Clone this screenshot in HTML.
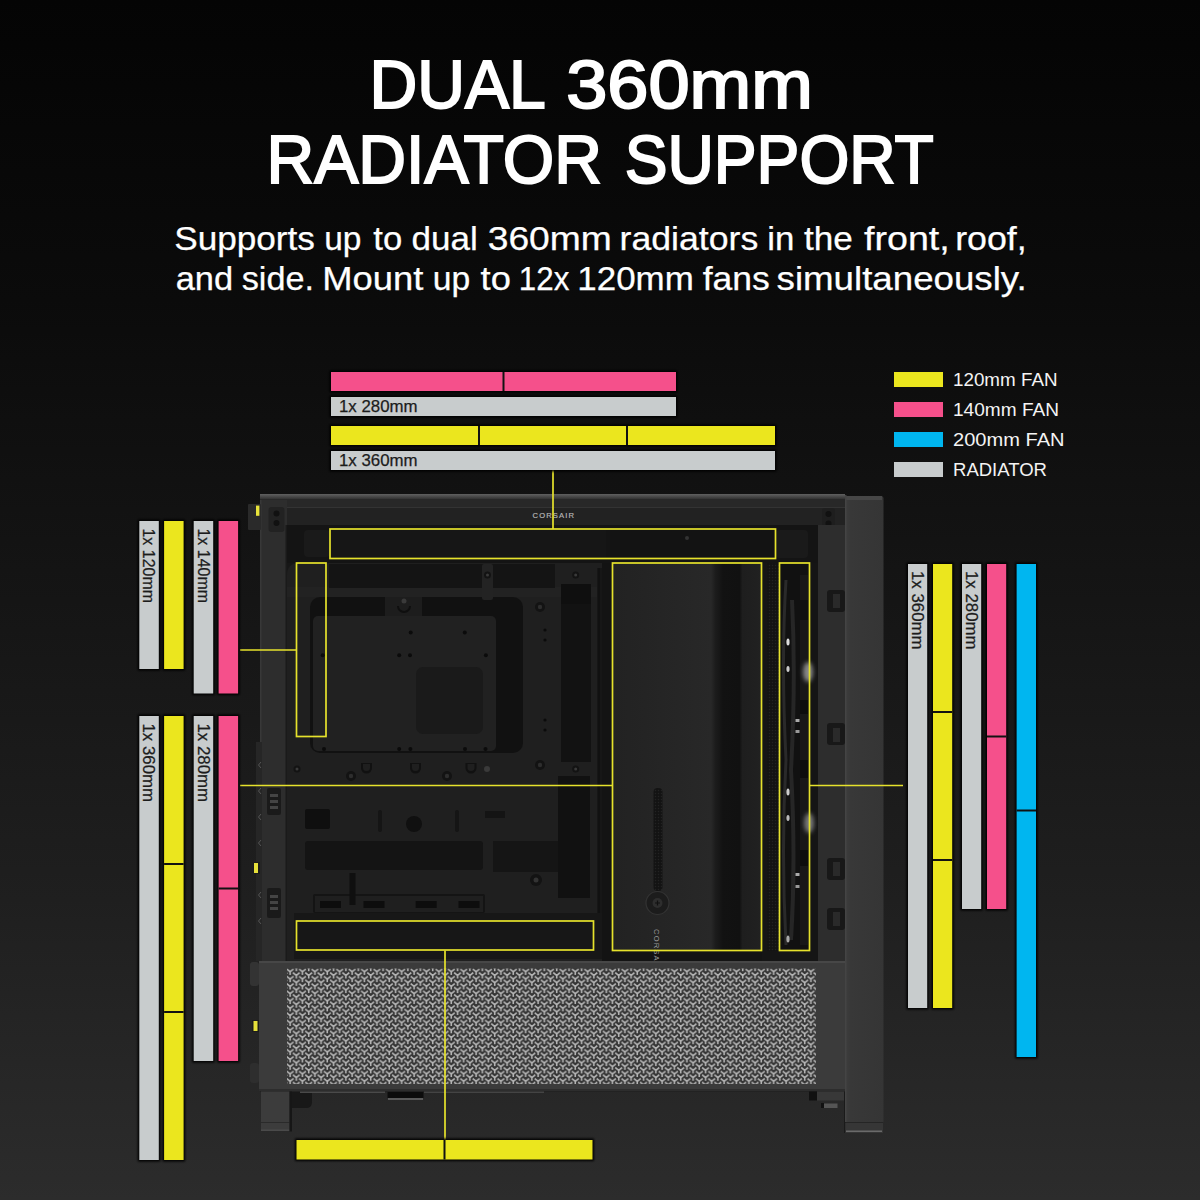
<!DOCTYPE html>
<html><head><meta charset="utf-8">
<style>
html,body{margin:0;padding:0;background:#111;}
body{width:1200px;height:1200px;overflow:hidden;}
svg{display:block;}
text{font-family:"Liberation Sans",sans-serif;}
</style></head>
<body>
<svg width="1200" height="1200" viewBox="0 0 1200 1200">
<defs>
<linearGradient id="bg" x1="0" y1="0" x2="0" y2="1">
<stop offset="0" stop-color="#040404"/>
<stop offset="0.25" stop-color="#0b0b0b"/>
<stop offset="0.5" stop-color="#151515"/>
<stop offset="0.75" stop-color="#1f1f1f"/>
<stop offset="1" stop-color="#2c2c2c"/>
</linearGradient>
<linearGradient id="front" x1="0" y1="0" x2="1" y2="0">
<stop offset="0" stop-color="#3d3d3d"/>
<stop offset="0.15" stop-color="#383838"/>
<stop offset="1" stop-color="#353535"/>
</linearGradient>
<linearGradient id="topedge" x1="0" y1="0" x2="0" y2="1">
<stop offset="0" stop-color="#606060"/>
<stop offset="1" stop-color="#2a2a2a"/>
</linearGradient>
<linearGradient id="psu" x1="0" y1="0" x2="1" y2="0">
<stop offset="0" stop-color="#222"/>
<stop offset="0.66" stop-color="#282828"/>
<stop offset="0.69" stop-color="#1c1c1c"/>
<stop offset="0.74" stop-color="#121212"/>
<stop offset="0.85" stop-color="#111"/>
<stop offset="0.87" stop-color="#1e1e1e"/>
<stop offset="1" stop-color="#212121"/>
</linearGradient>
<pattern id="mesh" x="287" y="968.5" width="12.4" height="7.3" patternUnits="userSpaceOnUse">
<rect width="12.4" height="7.3" fill="#353535"/>
<path d="M-12.70 -6.80L-9.30 -4.00L-5.90 -6.80M-9.30 -4.00V-0.80M-12.70 0.50L-9.30 3.30L-5.90 0.50M-9.30 3.30V6.50M-12.70 7.80L-9.30 10.60L-5.90 7.80M-9.30 10.60V13.80M-0.30 -6.80L3.10 -4.00L6.50 -6.80M3.10 -4.00V-0.80M-0.30 0.50L3.10 3.30L6.50 0.50M3.10 3.30V6.50M-0.30 7.80L3.10 10.60L6.50 7.80M3.10 10.60V13.80M12.10 -6.80L15.50 -4.00L18.90 -6.80M15.50 -4.00V-0.80M12.10 0.50L15.50 3.30L18.90 0.50M15.50 3.30V6.50M12.10 7.80L15.50 10.60L18.90 7.80M15.50 10.60V13.80M-6.50 -3.15L-3.10 -0.35L0.30 -3.15M-3.10 -0.35V2.85M-6.50 4.15L-3.10 6.95L0.30 4.15M-3.10 6.95V10.15M-6.50 11.45L-3.10 14.25L0.30 11.45M-3.10 14.25V17.45M5.90 -3.15L9.30 -0.35L12.70 -3.15M9.30 -0.35V2.85M5.90 4.15L9.30 6.95L12.70 4.15M9.30 6.95V10.15M5.90 11.45L9.30 14.25L12.70 11.45M9.30 14.25V17.45M18.30 -3.15L21.70 -0.35L25.10 -3.15M21.70 -0.35V2.85M18.30 4.15L21.70 6.95L25.10 4.15M21.70 6.95V10.15M18.30 11.45L21.70 14.25L25.10 11.45M21.70 14.25V17.45" stroke="#b5b5b5" stroke-width="1.6" fill="none"/>
</pattern>
<pattern id="dmesh" x="0" y="0" width="3" height="3" patternUnits="userSpaceOnUse">
<rect width="3" height="3" fill="#131313"/><circle cx="1.5" cy="1.5" r="0.7" fill="#222"/>
</pattern>
<filter id="sh" x="-20%" y="-20%" width="140%" height="140%">
<feGaussianBlur stdDeviation="1"/>
</filter>
<filter id="blur2" x="-50%" y="-50%" width="200%" height="200%">
<feGaussianBlur stdDeviation="2"/>
</filter>
</defs>
<rect width="1200" height="1200" fill="url(#bg)"/>

<g fill="#fff" stroke="#fff">
<text x="369.47" y="108" font-size="69" stroke-width="2" textLength="176.38" lengthAdjust="spacingAndGlyphs">DUAL</text>
<text x="566.15" y="108" font-size="69" stroke-width="2" textLength="246.67" lengthAdjust="spacingAndGlyphs">360mm</text>
<text x="266.53" y="183" font-size="69" stroke-width="2" textLength="335.33" lengthAdjust="spacingAndGlyphs">RADIATOR</text>
<text x="624.64" y="183" font-size="69" stroke-width="2" textLength="309.14" lengthAdjust="spacingAndGlyphs">SUPPORT</text>
<text x="174.20" y="250" font-size="33" stroke-width="0.25" textLength="140.70" lengthAdjust="spacingAndGlyphs">Supports</text>
<text x="324.25" y="250" font-size="33" stroke-width="0.25" textLength="37.26" lengthAdjust="spacingAndGlyphs">up</text>
<text x="373.39" y="250" font-size="33" stroke-width="0.25" textLength="28.90" lengthAdjust="spacingAndGlyphs">to</text>
<text x="411.59" y="250" font-size="33" stroke-width="0.25" textLength="66.21" lengthAdjust="spacingAndGlyphs">dual</text>
<text x="487.71" y="250" font-size="33" stroke-width="0.25" textLength="124.09" lengthAdjust="spacingAndGlyphs">360mm</text>
<text x="619.59" y="250" font-size="33" stroke-width="0.25" textLength="138.70" lengthAdjust="spacingAndGlyphs">radiators</text>
<text x="767.25" y="250" font-size="33" stroke-width="0.25" textLength="27.16" lengthAdjust="spacingAndGlyphs">in</text>
<text x="804.00" y="250" font-size="33" stroke-width="0.25" textLength="48.90" lengthAdjust="spacingAndGlyphs">the</text>
<text x="864.00" y="250" font-size="33" stroke-width="0.25" textLength="85.70" lengthAdjust="spacingAndGlyphs">front,</text>
<text x="955.20" y="250" font-size="33" stroke-width="0.25" textLength="71.50" lengthAdjust="spacingAndGlyphs">roof,</text>
<text x="175.71" y="290" font-size="33" stroke-width="0.25" textLength="57.48" lengthAdjust="spacingAndGlyphs">and</text>
<text x="241.71" y="290" font-size="33" stroke-width="0.25" textLength="72.38" lengthAdjust="spacingAndGlyphs">side.</text>
<text x="322.25" y="290" font-size="33" stroke-width="0.25" textLength="101.14" lengthAdjust="spacingAndGlyphs">Mount</text>
<text x="432.81" y="290" font-size="33" stroke-width="0.25" textLength="37.48" lengthAdjust="spacingAndGlyphs">up</text>
<text x="480.61" y="290" font-size="33" stroke-width="0.25" textLength="30.29" lengthAdjust="spacingAndGlyphs">to</text>
<text x="518.81" y="290" font-size="33" stroke-width="0.25" textLength="50.58" lengthAdjust="spacingAndGlyphs">12x</text>
<text x="577.30" y="290" font-size="33" stroke-width="0.25" textLength="116.45" lengthAdjust="spacingAndGlyphs">120mm</text>
<text x="702.66" y="290" font-size="33" stroke-width="0.25" textLength="67.07" lengthAdjust="spacingAndGlyphs">fans</text>
<text x="776.54" y="290" font-size="33" stroke-width="0.25" textLength="250.16" lengthAdjust="spacingAndGlyphs">simultaneously.</text>

</g>

<g id="case">
<!-- front panel -->
<path d="M845 496 H881 Q883.5 496 883.5 498.5 V1122 H845 Z" fill="url(#front)"/>
<rect x="845" y="496" width="37" height="4" fill="#474747"/>
<rect x="845" y="1122" width="38" height="11" fill="#363636"/>
<rect x="845" y="1122" width="38" height="1" fill="#252525"/>
<rect x="846" y="1130.5" width="36" height="1.5" fill="#6a6a6a"/>
<rect x="844" y="500" width="1.2" height="633" fill="#1a1a1a"/>
<rect x="845" y="495" width="1.5" height="627" fill="#444"/>
<!-- main body -->
<rect x="260" y="494" width="585" height="598" fill="#222"/>
<rect x="260" y="494" width="585" height="6" fill="url(#topedge)"/>
<rect x="260" y="500" width="585" height="25" fill="#222"/>
<rect x="260" y="499" width="585" height="8" fill="#282828"/><rect x="260" y="507" width="585" height="1" fill="#333"/>
<!-- left pillar -->
<rect x="260" y="500" width="27" height="461" fill="#2d2d2d"/>
<rect x="260" y="500" width="1.5" height="461" fill="#383838"/>
<rect x="256" y="742" width="6" height="219" fill="#262626"/>
<path d="M261 762 l-2.5 3 l2.5 3 M261 788 l-2.5 3 l2.5 3 M261 814 l-2.5 3 l2.5 3 M261 840 l-2.5 3 l2.5 3 M261 892 l-2.5 3 l2.5 3 M261 918 l-2.5 3 l2.5 3" stroke="#555" stroke-width="1" fill="none"/>
<rect x="285.5" y="525" width="1.5" height="436" fill="#1a1a1a"/>
<!-- top-left and top-right brackets w/ screws -->
<rect x="268.5" y="507" width="16" height="25" rx="3" fill="#222"/>
<circle cx="276.5" cy="513.5" r="3" fill="#111"/><circle cx="276.5" cy="523" r="3" fill="#111"/>
<rect x="822" y="508" width="13" height="24" rx="3" fill="#1e1e1e"/>
<circle cx="828.5" cy="514" r="3" fill="#111"/><circle cx="828.5" cy="523.5" r="3" fill="#111"/>
<!-- power button -->
<rect x="248" y="504" width="13" height="26" rx="1" fill="#2a2a2a"/>
<rect x="256" y="505.6" width="3.4" height="10.2" fill="#e8e33a"/>
<!-- right pillar -->
<rect x="818" y="525" width="27" height="436" fill="#2d2d2d"/>
<rect x="827" y="590" width="18" height="22" rx="3" fill="#181818"/>
<rect x="833" y="594" width="7" height="14" fill="#2a2a2a"/>
<rect x="827" y="723" width="18" height="22" rx="3" fill="#181818"/>
<rect x="833" y="728" width="7" height="14" fill="#2a2a2a"/>
<rect x="827" y="858" width="18" height="22" rx="3" fill="#181818"/>
<rect x="833" y="862" width="7" height="14" fill="#2a2a2a"/>
<rect x="827" y="908" width="18" height="22" rx="3" fill="#181818"/>
<rect x="833" y="912" width="7" height="14" fill="#2a2a2a"/>
<!-- interior -->
<rect x="287" y="525" width="531" height="436" fill="#171717"/>
<!-- motherboard tray -->
<path d="M287 575 Q287 563 299 563 H602 V961 H287 Z" fill="#1f1f1f"/>
<rect x="287" y="587" width="315" height="10" fill="#222"/>
<rect x="329" y="564" width="226" height="24" fill="#141414"/>
<rect x="310" y="597" width="213" height="156" rx="10" fill="#111"/>
<rect x="385" y="597" width="37" height="19" fill="#1d1d1d"/>
<circle cx="404" cy="601" r="2.5" fill="#3a3a3a"/><path d="M398 606 a6 6 0 0 0 12 0" stroke="#0f0f0f" stroke-width="2" fill="none"/>
<rect x="313" y="616" width="183" height="135" rx="5" fill="#212121"/>
<rect x="416" y="667" width="67" height="67" rx="7" fill="#1a1a1a"/>
<rect x="561" y="584" width="30" height="178" fill="#121212"/>
<rect x="561" y="584" width="30" height="20" fill="#0f0f0f"/>
<rect x="597" y="568" width="5" height="345" fill="#161616"/><rect x="598.5" y="568" width="1" height="345" fill="#0c0c0c"/>
<rect x="558" y="776" width="32" height="122" fill="#111"/>
<rect x="305" y="841" width="178" height="29" rx="3" fill="#141414"/>
<rect x="493" y="841" width="65" height="31" fill="#151515"/>
<rect x="305" y="809" width="25" height="20" rx="2" fill="#0f0f0f"/>
<circle cx="414" cy="824" r="8" fill="#101010"/>
<rect x="485" y="811" width="20" height="7" fill="#141414"/>
<rect x="378" y="810" width="4" height="22" rx="2" fill="#151515"/>
<rect x="455" y="810" width="4" height="22" rx="2" fill="#151515"/>
<rect x="313" y="894" width="172" height="19" rx="2" fill="#141414"/>
<rect x="315" y="896" width="168" height="16" fill="#1f1f1f"/>
<rect x="320" y="901" width="21" height="7" fill="#0d0d0d"/>
<rect x="363.5" y="901" width="21" height="7" fill="#0d0d0d"/>
<rect x="415.7" y="901" width="21" height="7" fill="#0d0d0d"/>
<rect x="458.5" y="901" width="21" height="7" fill="#0d0d0d"/>
<rect x="349.5" y="873" width="6" height="32" fill="#0f0f0f"/>
<rect x="294" y="913" width="308" height="46" fill="#171717"/>
<!-- screws / holes -->
<g fill="#0b0b0b">
<circle cx="410.7" cy="632.5" r="2"/><circle cx="464.8" cy="632.5" r="2"/>
<circle cx="322.7" cy="655.2" r="2"/><circle cx="399.2" cy="655.2" r="2"/><circle cx="410" cy="655.2" r="2"/><circle cx="485.9" cy="655.2" r="2"/>
<circle cx="324" cy="749" r="2"/><circle cx="399.2" cy="749" r="2"/><circle cx="410.4" cy="749" r="2"/><circle cx="465" cy="749" r="2"/><circle cx="485.5" cy="749" r="2"/>
<circle cx="545" cy="630" r="1.6"/><circle cx="545" cy="640" r="1.6"/>
<circle cx="545" cy="720" r="1.6"/><circle cx="545" cy="730" r="1.6"/>
</g>
<g>
<circle cx="540" cy="607" r="5" fill="#131313"/><circle cx="540" cy="607" r="2.2" fill="#2e2e2e"/>
<circle cx="540" cy="765" r="5" fill="#131313"/><circle cx="540" cy="765" r="2.2" fill="#2e2e2e"/>
<circle cx="351" cy="776" r="5" fill="#131313"/><circle cx="351" cy="776" r="2.2" fill="#2e2e2e"/>
<circle cx="447" cy="776" r="5" fill="#131313"/><circle cx="447" cy="776" r="2.2" fill="#2e2e2e"/>
<rect x="482" y="564" width="11" height="36" rx="2" fill="#232323"/>
<circle cx="487.5" cy="575" r="3.5" fill="#131313"/><circle cx="487.5" cy="575" r="1.5" fill="#3a3a3a"/>
<circle cx="575.7" cy="575" r="3.5" fill="#131313"/><circle cx="575.7" cy="575" r="1.5" fill="#3a3a3a"/>
<circle cx="297" cy="769" r="3.5" fill="#131313"/><circle cx="297" cy="769" r="1.5" fill="#3a3a3a"/>
<circle cx="575.7" cy="769" r="3.5" fill="#131313"/><circle cx="575.7" cy="769" r="1.5" fill="#3a3a3a"/>
<circle cx="487" cy="769" r="3" fill="#3a3a3a"/>
<path d="M361 763 h11 v5 a5.5 5.5 0 0 1 -11 0 z M410 763 h11 v5 a5.5 5.5 0 0 1 -11 0 z M465.5 763 h11 v5 a5.5 5.5 0 0 1 -11 0 z" fill="#111"/>
<path d="M363 764 h7 v3.5 a3.5 3.5 0 0 1 -7 0 z M412 764 h7 v3.5 a3.5 3.5 0 0 1 -7 0 z M467.5 764 h7 v3.5 a3.5 3.5 0 0 1 -7 0 z" fill="#1f1f1f"/>
<circle cx="536" cy="880" r="6" fill="#131313"/><circle cx="536" cy="880" r="2.5" fill="#333"/>
</g>
<!-- PSU shroud / side radiator area -->
<rect x="602" y="525" width="216" height="436" fill="#131313"/>
<rect x="612" y="563" width="150" height="388" fill="url(#psu)"/>
<rect x="762" y="563" width="56" height="398" fill="#151515"/>
<rect x="767" y="563" width="12" height="388" fill="url(#dmesh)"/>
<!-- fan strip -->
<rect x="780" y="563" width="30" height="388" fill="#111"/>
<path d="M786 580 Q781 660 786 760 Q781 850 786 945" stroke="#2a2a2a" stroke-width="3" fill="none"/>
<path d="M792 600 Q796 680 791 770 Q796 860 791 940" stroke="#262626" stroke-width="4" fill="none"/>
<rect x="800" y="575" width="8" height="370" fill="#181818"/>
<rect x="800" y="600" width="8" height="20" fill="#101010"/>
<rect x="800" y="700" width="8" height="14" fill="#0d0d0d"/>
<rect x="800" y="760" width="8" height="18" fill="#0d0d0d"/>
<rect x="800" y="850" width="8" height="16" fill="#0d0d0d"/>
<ellipse cx="808" cy="672" rx="5" ry="10" fill="#888" filter="url(#blur2)"/>
<ellipse cx="809" cy="823" rx="5" ry="10" fill="#777" filter="url(#blur2)"/>
<ellipse cx="788" cy="642" rx="1.6" ry="3.5" fill="#ddd"/>
<ellipse cx="788" cy="669" rx="1.6" ry="3" fill="#ccc"/>
<ellipse cx="788" cy="792" rx="1.6" ry="3.5" fill="#ccc"/>
<ellipse cx="788" cy="818" rx="1.6" ry="3" fill="#bbb"/>
<ellipse cx="788" cy="939" rx="1.6" ry="3.5" fill="#aaa"/>
<rect x="795.5" y="719" width="4" height="3" fill="#aaa"/>
<rect x="795.5" y="730" width="4" height="3" fill="#999"/>
<rect x="795.5" y="873" width="4" height="3" fill="#aaa"/>
<rect x="795.5" y="885" width="4" height="3" fill="#999"/>
<!-- cable strap -->
<rect x="653.5" y="788" width="9" height="103" rx="4" fill="url(#dmesh)"/>
<circle cx="657.5" cy="903" r="11.5" fill="#1c1c1c" stroke="#333" stroke-width="1.2"/>
<circle cx="657.5" cy="903" r="5" fill="#2e2e2e"/>
<path d="M655 903 h5 M657.5 900.5 v5" stroke="#111" stroke-width="1.2"/>
<text transform="translate(654,929) rotate(90)" font-size="7.6" fill="#9a9a9a" textLength="41.5" lengthAdjust="spacing">CORSAIR</text>
<!-- top radiator area -->
<rect x="287" y="525" width="531" height="38" fill="#141414"/>
<rect x="304" y="530" width="26" height="27" rx="4" fill="#1a1a1a"/>
<rect x="331" y="530" width="275" height="28" fill="#161616"/>
<rect x="610" y="530" width="165" height="28" fill="#131313"/>
<rect x="776" y="530" width="32" height="28" rx="4" fill="#1a1a1a"/>
<circle cx="687" cy="538" r="2" fill="#333"/>
<!-- CORSAIR logo top -->
<text x="532.5" y="517.8" font-size="7.6" fill="#b4b4b4" textLength="41.5" lengthAdjust="spacing" stroke="#b4b4b4" stroke-width="0.2">CORSAIR</text>
<!-- I/O on left pillar -->
<rect x="267" y="788" width="14" height="27" rx="2" fill="#1a1a1a"/>
<rect x="270" y="794" width="8" height="3" fill="#444"/><rect x="270" y="800" width="8" height="3" fill="#444"/><rect x="270" y="806" width="8" height="3" fill="#444"/>
<rect x="267" y="888" width="14" height="30" rx="2" fill="#1a1a1a"/>
<rect x="270" y="895" width="8" height="3" fill="#444"/><rect x="270" y="901" width="8" height="3" fill="#444"/><rect x="270" y="907" width="8" height="3" fill="#444"/>
<rect x="253" y="862" width="7" height="12" fill="#1c1c1c"/>
<rect x="254" y="863" width="4" height="10" fill="#e6e03a"/>
<rect x="252" y="1020" width="8" height="12" fill="#1c1c1c"/>
<rect x="253.5" y="1021" width="4" height="10" fill="#e6e03a"/>
<rect x="250" y="962" width="9" height="24" rx="3" fill="#333"/>
<rect x="250" y="1063" width="9" height="20" rx="3" fill="#2e2e2e"/>
<!-- bottom mesh panel -->
<rect x="259" y="961" width="586" height="130" fill="#3b3b3b"/>
<rect x="259" y="961" width="586" height="2" fill="#474747"/>
<rect x="287" y="968.5" width="529" height="115.5" fill="url(#mesh)"/>
<rect x="259" y="1089" width="586" height="2" fill="#2d2d2d"/>
<!-- feet -->
<rect x="261" y="1091.5" width="28.5" height="39.5" fill="#3c3c3c"/>
<rect x="261" y="1122" width="28.5" height="1" fill="#2a2a2a"/>
<rect x="261" y="1129.5" width="28.5" height="1.5" fill="#4a4a4a"/>
<rect x="289.5" y="1091.5" width="2.5" height="40" fill="#161616"/>
<path d="M292 1092 H312 V1102 Q312 1108 306 1108 H292 Z" fill="#181818"/>
<rect x="300" y="1091.5" width="85" height="1.5" fill="#4a4a4a"/>
<rect x="387.5" y="1092" width="36" height="6" fill="#0c0c0c"/>
<rect x="388" y="1098" width="35" height="2" fill="#5a5a5a"/>
<rect x="424" y="1091.5" width="120" height="1.5" fill="#444"/>
<rect x="817" y="1091.5" width="27" height="9" fill="#383838"/>
<rect x="809" y="1091.5" width="8" height="9" fill="#111"/>
<rect x="824" y="1103.5" width="13.5" height="4.5" fill="#555"/>
<rect x="821" y="1103" width="3" height="5" fill="#111"/>
</g>


<g fill="none" stroke="#e6e22c" stroke-width="1.7">
<rect x="330" y="529" width="445.5" height="29.5"/>
<rect x="296.5" y="563" width="29.5" height="173.5"/>
<rect x="612.5" y="563" width="149" height="387.5"/>
<rect x="779.5" y="563" width="30" height="387.5"/>
<rect x="296.5" y="921" width="297" height="29"/>
<path d="M553 470 V529 M240 650 H296.5 M240 785.5 H612.5 M809.5 785.5 H903 M445 950.5 V1140"/>
</g>

<rect x="329.5" y="370.5" width="348.0" height="22" fill="#000" filter="url(#sh)"/><rect x="331" y="372" width="345.0" height="19" fill="#f5508b"/><rect x="502.5" y="372" width="2" height="19" fill="#121212"/><rect x="329.5" y="395.5" width="348.0" height="22" fill="#000" filter="url(#sh)"/><rect x="331" y="397" width="345.0" height="19" fill="#c8cccd"/><rect x="329.5" y="424.5" width="447" height="22" fill="#000" filter="url(#sh)"/><rect x="331" y="426" width="444" height="19" fill="#ebe61e"/><rect x="478" y="426" width="2" height="19" fill="#121212"/><rect x="626" y="426" width="2" height="19" fill="#121212"/><rect x="329.5" y="449.5" width="447" height="22" fill="#000" filter="url(#sh)"/><rect x="331" y="451" width="444" height="19" fill="#c8cccd"/><rect x="137.8" y="519.5" width="22.5" height="151" fill="#000" filter="url(#sh)"/><rect x="139.3" y="521" width="19.5" height="148" fill="#c8cccd"/><rect x="162.6" y="519.5" width="22.5" height="151" fill="#000" filter="url(#sh)"/><rect x="164.1" y="521" width="19.5" height="148" fill="#ebe61e"/><rect x="192.2" y="519.5" width="22.5" height="175.5" fill="#000" filter="url(#sh)"/><rect x="193.7" y="521" width="19.5" height="172.5" fill="#c8cccd"/><rect x="217.1" y="519.5" width="22.5" height="175.5" fill="#000" filter="url(#sh)"/><rect x="218.6" y="521" width="19.5" height="172.5" fill="#f5508b"/><rect x="137.8" y="714.5" width="22.5" height="447" fill="#000" filter="url(#sh)"/><rect x="139.3" y="716" width="19.5" height="444" fill="#c8cccd"/><rect x="162.6" y="714.5" width="22.5" height="447" fill="#000" filter="url(#sh)"/><rect x="164.1" y="716" width="19.5" height="444" fill="#ebe61e"/><rect x="164.1" y="863" width="19.5" height="2" fill="#121212"/><rect x="164.1" y="1011" width="19.5" height="2" fill="#121212"/><rect x="192.2" y="714.5" width="22.5" height="348.0" fill="#000" filter="url(#sh)"/><rect x="193.7" y="716" width="19.5" height="345.0" fill="#c8cccd"/><rect x="217.1" y="714.5" width="22.5" height="348.0" fill="#000" filter="url(#sh)"/><rect x="218.6" y="716" width="19.5" height="345.0" fill="#f5508b"/><rect x="218.6" y="887.5" width="19.5" height="2" fill="#121212"/><rect x="906.5" y="562.5" width="22.2" height="447" fill="#000" filter="url(#sh)"/><rect x="908" y="564" width="19.2" height="444" fill="#c8cccd"/><rect x="931.5" y="562.5" width="22.2" height="447" fill="#000" filter="url(#sh)"/><rect x="933" y="564" width="19.2" height="444" fill="#ebe61e"/><rect x="933" y="711" width="19.2" height="2" fill="#121212"/><rect x="933" y="859" width="19.2" height="2" fill="#121212"/><rect x="960.5" y="562.5" width="22.2" height="348.0" fill="#000" filter="url(#sh)"/><rect x="962" y="564" width="19.2" height="345.0" fill="#c8cccd"/><rect x="985.5" y="562.5" width="22.2" height="348.0" fill="#000" filter="url(#sh)"/><rect x="987" y="564" width="19.2" height="345.0" fill="#f5508b"/><rect x="987" y="735.5" width="19.2" height="2" fill="#121212"/><rect x="1015.1" y="562.5" width="22.4" height="496.0" fill="#000" filter="url(#sh)"/><rect x="1016.6" y="564" width="19.4" height="493.0" fill="#00b6f0"/><rect x="1016.6" y="809.5" width="19.4" height="2" fill="#121212"/><rect x="295.0" y="1138.5" width="299" height="22.5" fill="#000" filter="url(#sh)"/><rect x="296.5" y="1140" width="296" height="19.5" fill="#ebe61e"/><rect x="443.5" y="1140" width="2" height="19.5" fill="#121212"/>
<g fill="#1c1c1c" stroke="#1c1c1c" stroke-width="0.25" font-size="16.5"><text x="339" y="411.6" textLength="78.5" lengthAdjust="spacingAndGlyphs">1x 280mm</text><text x="339" y="465.6" textLength="78.5" lengthAdjust="spacingAndGlyphs">1x 360mm</text><text transform="translate(143.3,528.5) rotate(90)" textLength="74.5" lengthAdjust="spacingAndGlyphs">1x 120mm</text><text transform="translate(197.8,528.5) rotate(90)" textLength="74.5" lengthAdjust="spacingAndGlyphs">1x 140mm</text><text transform="translate(143.3,723.5) rotate(90)" textLength="78.5" lengthAdjust="spacingAndGlyphs">1x 360mm</text><text transform="translate(197.8,723.5) rotate(90)" textLength="78.5" lengthAdjust="spacingAndGlyphs">1x 280mm</text><text transform="translate(911.8,571) rotate(90)" textLength="78.5" lengthAdjust="spacingAndGlyphs">1x 360mm</text><text transform="translate(965.8,571) rotate(90)" textLength="78.5" lengthAdjust="spacingAndGlyphs">1x 280mm</text></g>

<g>
<rect x="894" y="372" width="49" height="15" fill="#ebe61e"/>
<rect x="894" y="402" width="49" height="15" fill="#f5508b"/>
<rect x="894" y="432" width="49" height="15" fill="#00b6f0"/>
<rect x="894" y="462" width="49" height="15" fill="#c8cccd"/>
<g fill="#f4f4f4" font-size="18.6">
<text x="953" y="386" textLength="104.5" lengthAdjust="spacingAndGlyphs">120mm FAN</text>
<text x="953" y="416" textLength="106" lengthAdjust="spacingAndGlyphs">140mm FAN</text>
<text x="953" y="446" textLength="111.5" lengthAdjust="spacingAndGlyphs">200mm FAN</text>
<text x="953" y="476" textLength="94" lengthAdjust="spacingAndGlyphs">RADIATOR</text>
</g>
</g>
</svg>
</body></html>
